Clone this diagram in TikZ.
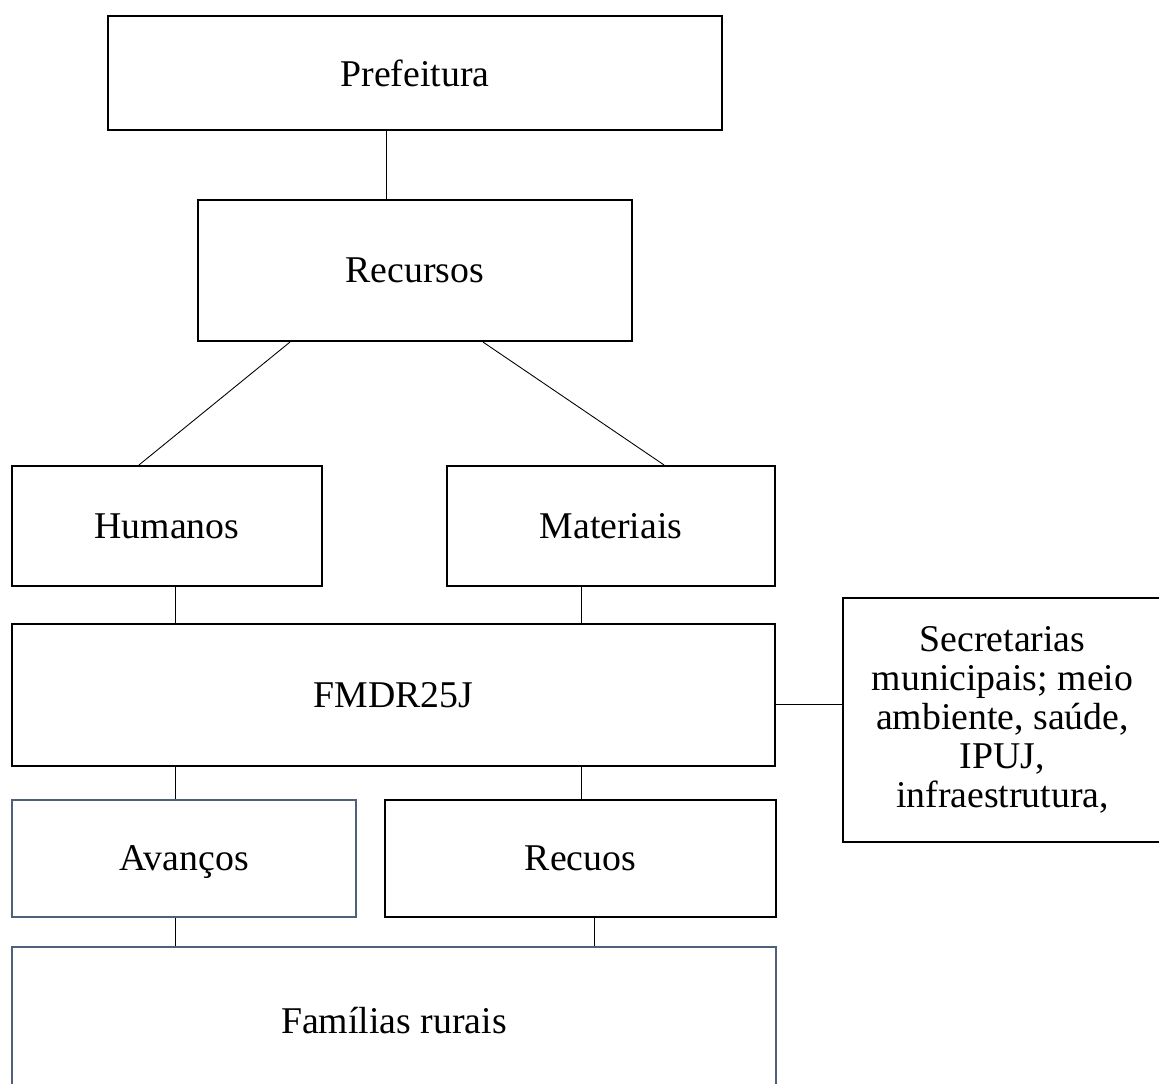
\documentclass[tikz,border=0pt]{standalone}
\usepackage{fontspec}
\setmainfont{Liberation Serif}
\usetikzlibrary{positioning}
\definecolor{slate}{RGB}{79,97,122}

\begin{document}
\begin{tikzpicture}[x=0.2mm, y=-0.2mm]
\tikzstyle{box}=[rectangle, draw, line width=1.2pt, inner sep=0pt, align=center, font=\fontsize{21.5}{22.2}\selectfont]
\tikzstyle{link}=[line width=0.5pt]
\path[use as bounding box, clip] (0,0) rectangle (1159,1084);

\node[box, minimum width=12.28cm, minimum height=2.28cm] (pref) at (415,73) {Prefeitura};
\node[box, minimum width=8.68cm, minimum height=2.82cm] (recur) at (415,270.5) {Recursos};
\node[box, minimum width=6.2cm, minimum height=2.4cm] (hum) at (167,526) {Humanos};
\node[box, minimum width=6.56cm, minimum height=2.4cm] (mat) at (611,526) {Materiais};
\node[box, minimum width=15.26cm, minimum height=2.84cm] (fmdr) at (393.5,695) {FMDR25J};
\node[box, minimum width=6.38cm, minimum height=4.88cm] (sec) at (1002.5,720)
  {Secretarias\\ municipais; meio\\ ambiente, saúde,\\ IPUJ,\\ infraestrutura,};
\node[box, draw=slate, text depth=0pt, minimum width=6.88cm, minimum height=2.34cm] (av) at (184,858.5) {Avanços};
\node[box, minimum width=7.82cm, minimum height=2.34cm] (rec) at (580.5,858.5) {Recuos};
\node[box, draw=slate, minimum width=15.28cm, minimum height=2.96cm] (fam) at (394,1021) {Famílias rurais};

% where the links meet the boxes
\coordinate (xa) at (386,0);
\coordinate (xb) at (175,0);
\coordinate (xc) at (581,0);
\coordinate (xd) at (594,0);
\coordinate (da) at (290,0);
\coordinate (db) at (139,0);
\coordinate (dc) at (483,0);
\coordinate (dd) at (664,0);
\coordinate (ya) at (0,704);

\foreach \i/\j/\x in {pref/recur/xa, hum/fmdr/xb, mat/fmdr/xc, fmdr/av/xb, fmdr/rec/xc, av/fam/xb, rec/fam/xd}{\draw[link] (\i.south -| \x) -- (\j.north -| \x);}
\foreach \p/\q in {da/db, dc/dd}{\draw[link] (recur.south -| \p) -- (\ifx\q db hum\else mat\fi.north -| \q);}
\draw[link] (fmdr.east |- ya) -- (sec.west |- ya);
\end{tikzpicture}
\end{document}
